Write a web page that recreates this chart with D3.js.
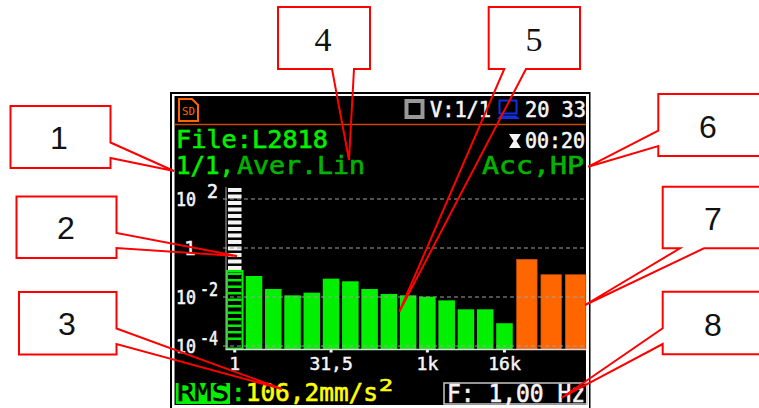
<!DOCTYPE html>
<html>
<head>
<meta charset="utf-8">
<script src="https://d3js.org/d3.v7.min.js"></script>
<style>
html, body { margin: 0; padding: 0; background: #fff; overflow: hidden; }
svg { display: block; }
</style>
</head>
<body>
<script>
// 1/1 octave bands
const bandLabels = ["1", "2", "4", "8", "16", "31,5", "63", "125", "250", "500", "1k", "2k", "4k", "8k", "16k"];
const bandValues = [0.115, 0.072, 0.0212, 0.0117, 0.015, 0.056, 0.0437, 0.0212, 0.0133, 0.0117, 0.0103, 0.0073, 0.00315, 0.00315, 0.00085];
const totalLabels = ["A", "C", "Z"];
const totalValues = [0.346, 0.0813, 0.0813];
const xTickLabels = ["1", "31,5", "1k", "16k"];
const yTicks = [100, 1, 0.01, 0.0001];
const yExponents = ["2", "", "-2", "-4"];

// numbered callouts around the screen: [number, x, baseline, font, outline]
const callouts = [
    ["1", 59, 149, "Liberation Sans", [[10.5,106],[110.5,106],[110.5,142.5],[174,171],[110.5,158],[110.5,168],[10.5,168]]],
    ["2", 66, 239, "Liberation Sans", [[16.5,196.5],[116.5,196.5],[116.5,233],[237,256],[116.5,248],[116.5,258],[16.5,258]]],
    ["3", 67, 335, "Liberation Sans", [[19,292],[116.5,292],[116.5,328.5],[282,389],[116.5,344],[116.5,354.5],[19,354.5]]],
    ["4", 323, 51, "Liberation Serif", [[278,7],[370,7],[370,69],[354,69],[349,160],[332,69],[278,69]]],
    ["5", 534, 51, "Liberation Serif", [[488.7,7],[580,7],[580,69],[526,69],[399.3,311.7],[504.3,69],[488.7,69]]],
    ["6", 708, 138, "Liberation Sans", [[658.3,94],[765,94],[765,156],[658.3,156],[658.3,146],[588.3,166.7],[658.3,130.7]]],
    ["7", 713, 230, "Liberation Sans", [[662.7,186.7],[765,186.7],[765,248.3],[704,248.3],[585,305],[680,248.3],[662.7,248.3]]],
    ["8", 713, 336, "Liberation Sans", [[662.7,291.7],[765,291.7],[765,354.3],[662.7,354.3],[662.7,344],[561.7,397.7],[662.7,328.3]]]
];

const GREEN = "#00f000";
const DARKGREEN = "#00b400";
const ORANGE = "#ff6600";
const WHITE = "#f4f4f4";
const MONO = "'DejaVu Sans Mono', monospace";

const svg = d3.select("body").append("svg").attr("width", 759).attr("height", 408);

const y = d3.scaleLog().domain([1e-4, 100]).range([346, 199]);
const xBands = d3.scaleBand().domain(bandLabels).range([225.1, 514.1]).paddingInner(0.14).paddingOuter(0.07);
const xTotals = d3.scaleBand().domain(totalLabels).range([514.6, 587.8]).paddingInner(0.155).paddingOuter(0.08);
const baseline = 349.5;

// screen frame
svg.append("rect").attr("x", 170).attr("y", 92).attr("width", 420.5).attr("height", 330).attr("fill", "#000");
svg.append("rect").attr("x", 172).attr("y", 94).attr("width", 417).attr("height", 330).attr("fill", "#fff");
svg.append("rect").attr("x", 174.5).attr("y", 96).attr("width", 411.5).attr("height", 309).attr("fill", "#000");

function label(txt, x, yy, size, color, width, anchor) {
    let t = svg.append("text")
        .attr("x", x)
        .attr("y", yy)
        .attr("font-family", MONO)
        .attr("font-size", size)
        .attr("fill", color)
        .attr("stroke", color)
        .attr("stroke-width", 0.6)
        .attr("text-anchor", anchor || "start")
        .text(txt);
    if (width) {
        t.attr("textLength", width).attr("lengthAdjust", "spacingAndGlyphs");
    }
    return t;
}

// status bar
svg.append("path")
    .attr("d", "M179 99H192L198 105V121H179Z")
    .attr("fill", "none")
    .attr("stroke", ORANGE)
    .attr("stroke-width", 2);
label("SD", 188.5, 115, 11, ORANGE, 13, "middle").attr("stroke-width", 0);
svg.append("rect").attr("x", 406.5).attr("y", 101).attr("width", 16).attr("height", 16)
    .attr("fill", "none").attr("stroke", "#999").attr("stroke-width", 4);
label("V:1/1", 430, 117, 21, WHITE, 61);
svg.append("rect").attr("x", 499.5).attr("y", 100.5).attr("width", 17).attr("height", 13)
    .attr("fill", "none").attr("stroke", "#1030e0").attr("stroke-width", 2);
svg.append("path").attr("d", "M497 119L500 115.5H516L520 119Z").attr("fill", "#1030e0");
label("20 33", 525, 117, 21, WHITE, 61);
svg.append("line").attr("x1", 174.5).attr("x2", 586).attr("y1", 124.5).attr("y2", 124.5)
    .attr("stroke", "#c84800").attr("stroke-width", 1.5);

// measurement header
label("File:L2818", 176, 148, 24, GREEN, 152);
label("1/1,", 176, 174, 24, GREEN, 58);
label("Aver.Lin", 237, 174, 24, DARKGREEN, 128);
svg.append("path").attr("d", "M509 134H521L516.5 141L521 148H509L513.5 141Z").attr("fill", WHITE);
label("00:20", 525, 148, 21, WHITE, 60);
label("Acc,HP", 482, 174, 24, DARKGREEN, 102);

// bars
svg.selectAll(".band")
    .data(bandValues.slice(1))
    .enter()
    .append("rect")
    .attr("class", "band")
    .attr("x", (d, i) => xBands(bandLabels[i + 1]))
    .attr("y", (d) => y(d))
    .attr("width", xBands.bandwidth())
    .attr("height", (d) => baseline - y(d))
    .attr("fill", GREEN);

svg.selectAll(".total")
    .data(totalValues)
    .enter()
    .append("rect")
    .attr("class", "total")
    .attr("x", (d, i) => xTotals(totalLabels[i]))
    .attr("y", (d) => y(d))
    .attr("width", xTotals.bandwidth())
    .attr("height", (d) => baseline - y(d))
    .attr("fill", ORANGE)
    .attr("stroke", "#c85000")
    .attr("stroke-width", 0.6);

// first band is the level meter: white segments above the level, green ladder below
const meterX = xBands(bandLabels[0]);
const meterW = xBands.bandwidth();
const meterTop = 2.45;
const meterStep = 0.2653;
const meterLevels = d3.range(0, 24).map((i) => Math.pow(10, meterTop - i * meterStep));

svg.selectAll(".meter")
    .data(meterLevels)
    .enter()
    .append("rect")
    .attr("class", "meter")
    .attr("x", meterX + 1.5)
    .attr("y", (d) => y(d))
    .attr("width", meterW - 3)
    .attr("height", (d) => (d > bandValues[0] ? 4 : 2.5))
    .attr("fill", (d) => (d > bandValues[0] ? WHITE : GREEN));

svg.append("rect")
    .attr("x", meterX + 0.5)
    .attr("y", y(bandValues[0]))
    .attr("width", meterW - 1)
    .attr("height", baseline - y(bandValues[0]) - 1)
    .attr("fill", "none")
    .attr("stroke", GREEN)
    .attr("stroke-width", 2);

// grid
svg.selectAll(".grid")
    .data(yTicks)
    .enter()
    .append("line")
    .attr("class", "grid")
    .attr("x1", 223)
    .attr("x2", 586)
    .attr("y1", (d) => y(d))
    .attr("y2", (d) => y(d))
    .attr("stroke", "#a0a0a0")
    .attr("stroke-width", 1)
    .attr("stroke-dasharray", "4,3");

// axes
svg.append("line").attr("x1", 226).attr("x2", 226).attr("y1", 187).attr("y2", baseline)
    .attr("stroke", "#a8a8a8").attr("stroke-width", 1);

const xAxis = d3.axisBottom(xBands).tickValues(xTickLabels).tickSize(3).tickPadding(5);
const xG = svg.append("g").attr("transform", `translate(0,${baseline})`).call(xAxis);
xG.select(".domain").remove();
xG.selectAll(".tick line").attr("stroke", WHITE).attr("stroke-width", 3);
xG.selectAll(".tick text")
    .attr("fill", WHITE)
    .attr("stroke", WHITE)
    .attr("stroke-width", 0.5)
    .attr("font-family", MONO)
    .attr("font-size", 18);
svg.append("line").attr("x1", 225.5).attr("x2", 586).attr("y1", baseline).attr("y2", baseline)
    .attr("stroke", "#d8d8d8").attr("stroke-width", 1.5);

yTicks.forEach((t, i) => {
    if (yExponents[i] === "") {
        label("1", 190, y(t) + 7, 19, WHITE, 0, "middle");
    } else {
        label("10", 176, y(t) + 6.5, 19, WHITE, 20);
        let w = yExponents[i].length > 1 ? 18 : 11;
        label(yExponents[i], 218 - w, y(t) - 1, 19, WHITE, w);
    }
});

// bottom readouts
svg.append("rect").attr("x", 175.7).attr("y", 383).attr("width", 54.3).attr("height", 21).attr("fill", GREEN);
label("RMS", 177, 401, 24, "#000", 52);
let rms = label(":", 231, 401, 24, GREEN, 147);
rms.append("tspan").attr("fill", "#ffff00").attr("stroke", "#ffff00").text("106,2mm/s");
label("2", 379, 391, 15, "#ffff00", 14);
svg.append("rect").attr("x", 444).attr("y", 383).attr("width", 143).attr("height", 21)
    .attr("fill", "none").attr("stroke", "#c8c8c8").attr("stroke-width", 1.5);
label("F: 1,00 Hz", 447, 402, 24, WHITE, 138);

// callouts
const outline = d3.line();
callouts.forEach((c) => {
    svg.append("path")
        .attr("d", outline(c[4]) + "Z")
        .attr("fill", "none")
        .attr("stroke", "#ff0000")
        .attr("stroke-width", 2);
    svg.append("text")
        .attr("x", c[1])
        .attr("y", c[2])
        .attr("text-anchor", "middle")
        .attr("font-family", c[3])
        .attr("font-size", c[3] === "Liberation Serif" ? 34 : 32)
        .attr("fill", "#111")
        .text(c[0]);
});
</script>
</body>
</html>
